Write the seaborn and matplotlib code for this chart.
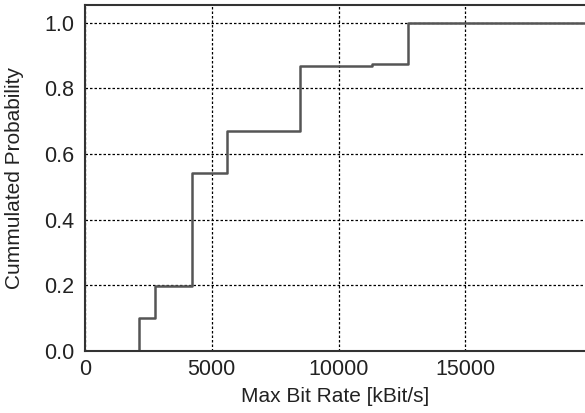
import matplotlib
matplotlib.use("Agg")
import matplotlib.pyplot as plt
import seaborn as sns
import pandas as pd

# Empirical distribution of the maximum bit rate (step function)
rate_kbit = [2130, 2130, 2780, 4220, 5620, 8460, 11300, 12720, 19720]
cum_prob = [0.0, 0.10, 0.197, 0.543, 0.670, 0.867, 0.874, 1.0, 1.0]

x_ticks = [0, 5000, 10000, 15000]
y_ticks = [0.0, 0.2, 0.4, 0.6, 0.8, 1.0]

sns.set_theme(style="white")
plt.rcParams["font.family"] = ["Liberation Sans", "DejaVu Sans"]

df = pd.DataFrame({"rate": rate_kbit, "prob": cum_prob})

fig = plt.figure(figsize=(5.85, 4.13), dpi=100)
ax = fig.add_axes([0.1453, 0.150, 0.8547, 0.837])

sns.lineplot(data=df, x="rate", y="prob", drawstyle="steps-post",
             estimator=None, sort=False, color="#555555", linewidth=1.8, ax=ax)

ax.set_xlim(0, 19720)
ax.set_ylim(0, 1.053)
ax.set_xticks(x_ticks)
ax.set_yticks(y_ticks)
ax.set_xticklabels([str(t) for t in x_ticks])
ax.set_yticklabels([f"{t:.1f}" for t in y_ticks])

ax.grid(True, color="black", linestyle=(0, (2, 1.6)), linewidth=0.9)
ax.set_axisbelow(True)
ax.tick_params(axis="both", length=0, labelsize=15.5, colors="#222222")
ax.tick_params(axis="x", pad=6)
ax.tick_params(axis="y", pad=8)

for side in ["left", "bottom", "top"]:
    ax.spines[side].set_color("#333333")
    ax.spines[side].set_linewidth(1.5)
ax.spines["right"].set_visible(False)

ax.set_xlabel("Max Bit Rate [kBit/s]", fontsize=15, color="#222222", labelpad=5)
ax.set_ylabel("Cummulated Probability", fontsize=15, color="#222222", labelpad=14)

fig.savefig("out.png", dpi=100)
